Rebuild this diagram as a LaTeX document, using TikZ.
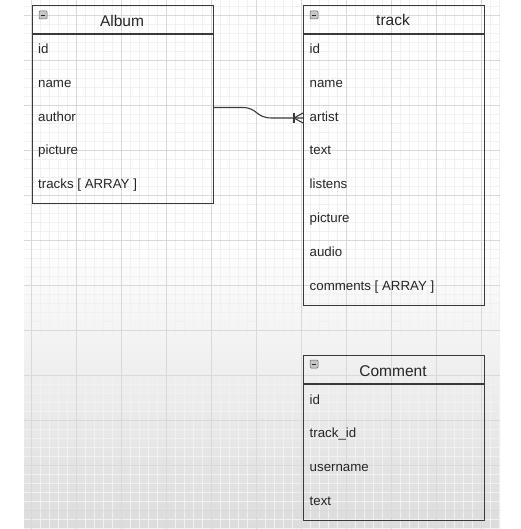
\documentclass[tikz,border=0pt]{standalone}
\usepackage{fontspec}
\setmainfont{Liberation Sans}
\usetikzlibrary{calc}
\definecolor{boxline}{HTML}{3A3A3A}
\definecolor{txt}{HTML}{262626}
\definecolor{gminor}{HTML}{F1F1F1}
\definecolor{gmajor}{HTML}{D9D9D9}
\definecolor{bottomgray}{HTML}{DCDCDC}
\begin{document}
\begin{tikzpicture}[x=1pt,y=-1pt,
  entity/.style={draw=boxline,line width=1.1pt,rectangle,inner sep=0pt},
  sep/.style={draw=boxline,line width=1.1pt},
  field/.style={anchor=base west,inner sep=0pt,text=txt,font=\fontsize{13.3}{16}\selectfont},
  head/.style={anchor=base,inner sep=0pt,text=txt,font=\fontsize{15.5}{18}\selectfont},
  icon/.style={draw=gray!80!black,fill=gray!45,rounded corners=1pt,line width=0.5pt,minimum width=8pt,minimum height=8pt,inner sep=0pt},
  conn/.style={draw=boxline,line width=1.1pt}]
\useasboundingbox (0,0) rectangle (520,529);
\fill[white] (0,0) rectangle (520,529);
% background gradient
\shade[top color=white,bottom color=bottomgray] (24,240) rectangle (500,529);
% grid
\foreach \x in {31,40,...,499} \draw[gminor,line width=0.5pt] (\x,0) -- (\x,529);
\foreach \y in {6,15,...,529} \draw[gminor,line width=0.5pt] (24,\y) -- (500,\y);
\foreach \x in {31,76,...,499} \draw[gmajor,line width=0.7pt] (\x,0) -- (\x,529);
\foreach \y in {15,60,...,529} \draw[gmajor,line width=0.7pt] (24,\y) -- (500,\y);

% Album
\node[entity,minimum width=181pt,minimum height=198pt,anchor=north west] (album) at (32,5) {};
\draw[sep] (32,34) -- (213,34);
\node[icon] (albumicon) at (43,15) {};
\draw[gray!30!black,line width=0.6pt] ($(albumicon.center)+(-2.3,0)$) -- ($(albumicon.center)+(2.3,0)$);
\node[head] (albumtitle) at (122,26.7) {Album};
\node[field] (a1) at (38,54) {id};
\node[field] (a2) at (38,87.6) {name};
\node[field] (a3) at (38,121.3) {author};
\node[field] (a4) at (38,155) {picture};
\node[field] (a5) at (38,188.8) {tracks [ ARRAY ]};

% track
\node[entity,minimum width=181pt,minimum height=300pt,anchor=north west] (track) at (303,5) {};
\draw[sep] (303,34) -- (484,34);
\node[icon] (trackicon) at (314,15) {};
\draw[gray!30!black,line width=0.6pt] ($(trackicon.center)+(-2.3,0)$) -- ($(trackicon.center)+(2.3,0)$);
\node[head] (tracktitle) at (393,26) {track};
\node[field] (t1) at (309.5,53.5) {id};
\node[field] (t2) at (309.5,87.3) {name};
\node[field] (t3) at (309.5,121.1) {artist};
\node[field] (t4) at (309.5,154.9) {text};
\node[field] (t5) at (309.5,188.7) {listens};
\node[field] (t6) at (309.5,222.5) {picture};
\node[field] (t7) at (309.5,256.3) {audio};
\node[field] (t8) at (309.5,290) {comments [ ARRAY ]};

% Comment
\node[entity,minimum width=181pt,minimum height=165pt,anchor=north west] (comment) at (303,355) {};
\draw[sep] (303,384) -- (484,384);
\node[icon] (commenticon) at (314,364) {};
\draw[gray!30!black,line width=0.6pt] ($(commenticon.center)+(-2.3,0)$) -- ($(commenticon.center)+(2.3,0)$);
\node[head] (commenttitle) at (393,376) {Comment};
\node[field] (c1) at (309.5,404) {id};
\node[field] (c2) at (309.5,437.5) {track\_id};
\node[field] (c3) at (309.5,471.5) {username};
\node[field] (c4) at (309.5,505.5) {text};

% connector album.author -> track.artist (one-or-many)
\coordinate (cs) at (album.east |- 0,107.5);
\coordinate (ce) at (track.west |- 0,118);
\draw[conn] (cs) -- ++(28,0) .. controls ++(16,0) and ($(ce)+(-48,0)$) .. ($(ce)+(-31,0)$) -- (ce);
\draw[conn] ($(ce)+(-9,-5)$) -- ($(ce)+(-9,5)$);
\draw[conn] ($(ce)+(-9,0)$) -- ($(ce)+(0,-5)$);
\draw[conn] ($(ce)+(-9,0)$) -- ($(ce)+(0,5)$);
\end{tikzpicture}
\end{document}
